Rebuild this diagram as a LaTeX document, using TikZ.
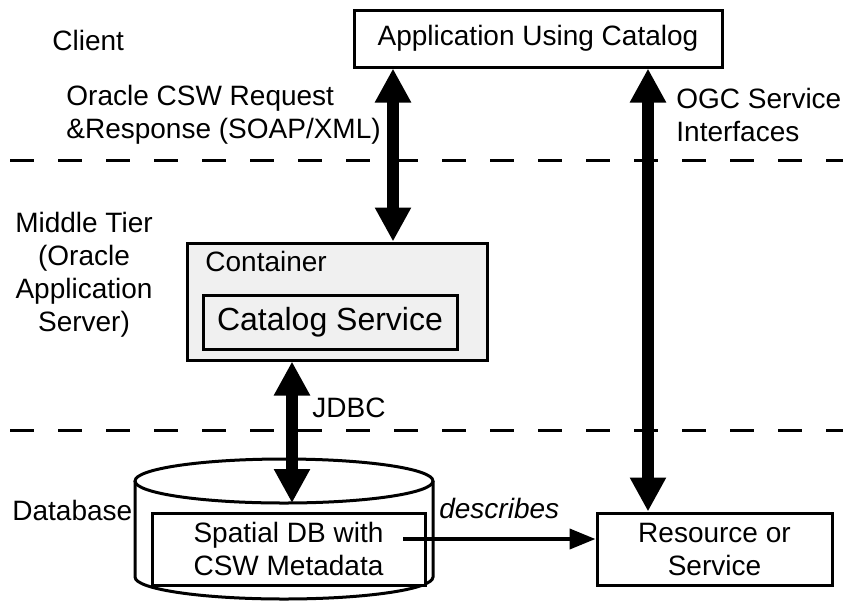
\documentclass[tikz,border=0pt]{standalone}
\usepackage{fontspec}
\setmainfont{Liberation Sans}
\usetikzlibrary{arrows.meta, positioning}
\definecolor{boxgray}{HTML}{F0F0F0}

\begin{document}
\begin{tikzpicture}[x=0.5pt, y=-0.5pt,
  box/.style={draw, line width=1.5pt, inner sep=0pt, align=center,
              font=\fontsize{14}{16.5}\selectfont},
  lbl/.style={inner sep=0pt, font=\fontsize{14}{16.5}\selectfont},
  tierline/.style={line width=1.5pt, dash pattern=on 12pt off 12pt},
  bigarrow/.style={line width=6pt,
                   {Triangle[width=17pt,length=17pt]}-{Triangle[width=17pt,length=17pt]}},
]
\useasboundingbox (0,0) rectangle (843,602);
% --- tier borders ---
\draw[tierline] (10,160) -- (843,160);
\draw[tierline] (10,430) -- (843,430);
% --- tier labels ---
\node[lbl, anchor=west] (client) at (52,40) {Client};
\node[lbl, align=center, font=\fontsize{14}{16.5}\selectfont] (mid) at (84,275)
  {Middle Tier\\(Oracle\\Application\\Server)};
\node[lbl, anchor=west] (dbl) at (12,510) {Database};
% --- client ---
\node[box, minimum width=184pt, minimum height=28.5pt] (app) at (538,38.5)
  {Application Using Catalog};
% --- middle tier ---
\node[box, fill=boxgray, minimum width=150pt, minimum height=58.5pt] (cont) at (337,301.5) {};
\node[lbl, anchor=west] (contl) at (205,261) {Container};
\node[box, fill=boxgray, minimum width=127pt, minimum height=27pt,
      font=\fontsize{16}{19}\selectfont] (cat) at (330,322) {Catalog Service};
% --- database ---
\draw[line width=1.5pt, fill=white] (135,481) -- (135,577)
  arc[start angle=180, end angle=0, x radius=149, y radius=22] -- (433,481);
\draw[line width=1.5pt] (284,481) ellipse[x radius=149, y radius=22];
\coordinate (dbtop) at (292,503);
\node[box, fill=white, minimum width=136.5pt, minimum height=36pt] (sdb) at (288.5,549)
  {Spatial DB with\\CSW Metadata};
\node[box, minimum width=117.5pt, minimum height=36pt] (res) at (714.5,549)
  {Resource or\\Service};
% --- connectors ---
\coordinate (xa) at (393,0);
\coordinate (xb) at (648,0);
\coordinate (xc) at (292,0);
\coordinate (dsrc) at (403,539);
\draw[bigarrow] (app.south -| xa) -- (cont.north -| xa);
\draw[bigarrow] (app.south -| xb) -- (res.north -| xb);
\draw[bigarrow] (cont.south -| xc) -- (dbtop);
\draw[line width=2pt, -{Triangle[width=10pt,length=13pt]}] (dsrc) -- (dsrc -| res.west)
  node[lbl, midway, above=9pt, font=\fontsize{14}{16.5}\selectfont\itshape] (desc) {describes};
% --- connector labels ---
\node[lbl, anchor=west, align=left] (csw) at (66,115)
  {Oracle CSW Request\\\&Response (SOAP/XML)};
\node[lbl, anchor=west, align=left] (ogc) at (676,115)
  {OGC Service\\Interfaces};
\node[lbl, anchor=west] (jdbc) at (312,408) {JDBC};
\end{tikzpicture}
\end{document}
